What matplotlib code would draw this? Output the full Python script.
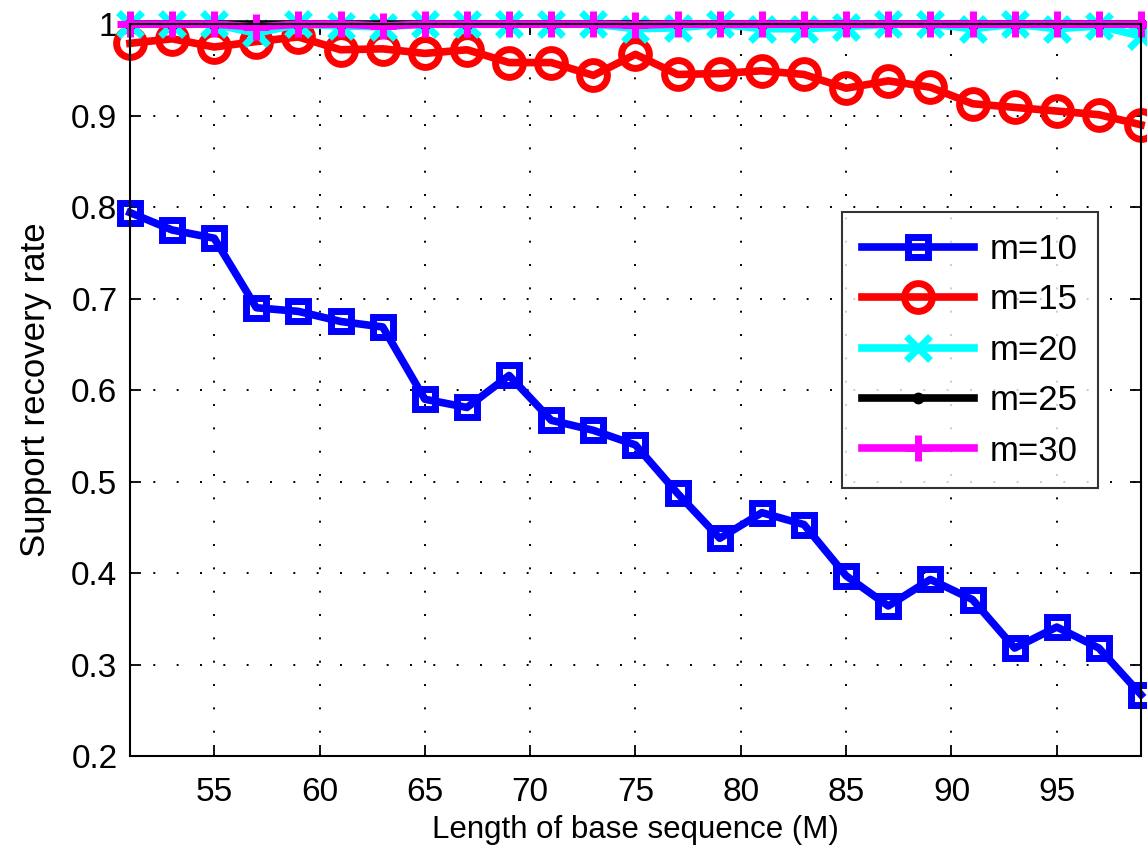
import matplotlib
matplotlib.use("Agg")
import matplotlib.pyplot as plt

plt.rcParams["font.family"] = ["Liberation Sans", "DejaVu Sans"]

# base sequence lengths
M = list(range(51, 100, 2))

rate_m10 = [0.794, 0.775, 0.766, 0.690, 0.686, 0.675, 0.669, 0.590, 0.581, 0.616,
            0.567, 0.556, 0.540, 0.487, 0.438, 0.466, 0.453, 0.397, 0.364, 0.393,
            0.371, 0.318, 0.341, 0.318, 0.267]
rate_m15 = [0.979, 0.984, 0.975, 0.981, 0.986, 0.972, 0.973, 0.968, 0.972, 0.958,
            0.958, 0.944, 0.967, 0.945, 0.946, 0.949, 0.945, 0.930, 0.938, 0.931,
            0.913, 0.909, 0.905, 0.901, 0.890]
rate_m20 = [1.0, 1.0, 1.0, 0.990, 1.0, 0.998, 0.997, 1.0, 1.0, 1.0,
            1.0, 1.0, 0.995, 0.996, 1.0, 0.995, 0.995, 0.997, 1.0, 1.0,
            0.995, 1.0, 0.995, 0.998, 0.987]
rate_m25 = [1.0] * 25
rate_m30 = [1.0, 1.0, 1.0, 0.997, 1.0, 1.0, 0.998, 1.0, 1.0, 1.0,
            1.0, 1.0, 0.999, 1.0, 1.0, 1.0, 1.0, 1.0, 1.0, 1.0,
            1.0, 1.0, 1.0, 1.0, 1.0]

series = [
    ("m=10", rate_m10, "#0000ff", "s", 15),
    ("m=15", rate_m15, "#ff0000", "o", 20),
    ("m=20", rate_m20, "#00ffff", "x", 17),
    ("m=25", rate_m25, "#000000", ".", 7),
    ("m=30", rate_m30, "#ff00ff", "+", 19),
]

fig = plt.figure(figsize=(11.47, 8.56), dpi=100)
ax = fig.add_axes([0.1133, 0.1168, 0.8815, 0.855])

for name, vals, col, mk, ms in series:
    ax.plot(M, vals, color=col, lw=5.5, marker=mk, markersize=ms,
            markerfacecolor="none" if mk in "so" else col,
            markeredgecolor=col, markeredgewidth=5, label=name, clip_on=False)

ax.set_xlim(51, 99)
ax.set_ylim(0.2, 1.0)
ax.set_xticks(range(55, 100, 5))
ax.set_yticks([0.2, 0.3, 0.4, 0.5, 0.6, 0.7, 0.8, 0.9, 1.0])
ax.set_yticklabels(["0.2", "0.3", "0.4", "0.5", "0.6", "0.7", "0.8", "0.9", "1"])
ax.tick_params(labelsize=24, direction="in", length=8, width=1.3, top=True, right=True)
ax.tick_params(axis="x", pad=15)
ax.tick_params(axis="y", pad=9)
ax.grid(True, color="black", linestyle=(0, (1, 11)), linewidth=1.4)
for s in ax.spines.values():
    s.set_linewidth(1.5)

ax.set_xlabel("Length of base sequence (M)", fontsize=22.5, labelpad=5)
ax.set_ylabel("Support recovery rate", fontsize=25, labelpad=14)

leg = ax.legend(loc="upper right", bbox_to_anchor=(0.9575, 0.743), fontsize=25,
                frameon=True, fancybox=False, edgecolor="black", handlelength=3.2,
                borderpad=0.6, labelspacing=0.5, handletextpad=0.45,
                borderaxespad=0)
leg.get_frame().set_linewidth(1.5)

fig.savefig("out.png", dpi=100)
